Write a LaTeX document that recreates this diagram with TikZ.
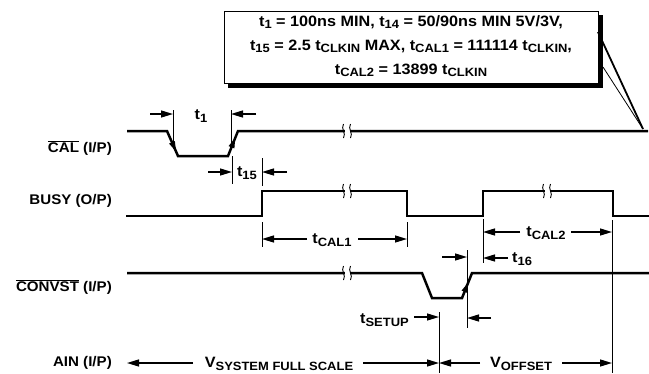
\documentclass[tikz,border=0pt]{standalone}
\usepackage{fontspec}
\setmainfont{Liberation Sans}[BoldFont={Liberation Sans Bold},FakeStretch=1.08]
\usetikzlibrary{arrows.meta,calc}
\newcommand{\lsub}[1]{\raisebox{-2.4pt}{\fontsize{12}{13}\selectfont #1}}
\newcommand{\sigbreak}[1]{%
  \fill[white] ($(#1)+(-2.5,-7)$) rectangle ($(#1)+(2.5,7)$);
  \draw[line width=0.9pt] ($(#1)+(-3.5,-7)$) .. controls ($(#1)+(-6.5,-2)$) and ($(#1)+(-0.5,2)$) .. ($(#1)+(-3.5,7)$);
  \draw[line width=0.9pt] ($(#1)+(3.5,-7)$) .. controls ($(#1)+(0.5,-2)$) and ($(#1)+(6.5,2)$) .. ($(#1)+(3.5,7)$);}
\begin{document}
\begin{tikzpicture}[x=1pt,y=-1pt,
  sig/.style={line width=2.5pt,line join=miter},
  refl/.style={line width=0.8pt},
  dimarr/.style={line width=1.3pt,-{Triangle[length=12pt,width=7pt]}},
  edgearr/.style={line width=1pt,-{Triangle[length=10pt,width=6pt]}},
  lbl/.style={font=\bfseries\fontsize{15}{17}\selectfont,inner sep=0pt},
  siglbl/.style={font=\bfseries\fontsize{14}{16}\selectfont,inner sep=0pt,anchor=east},
  boxtxt/.style={font=\bfseries\fontsize{15}{24}\selectfont,align=center,inner sep=0pt}]
\useasboundingbox (0,0) rectangle (649,373);

% ---- callout box ----
\fill[black] (228,15) rectangle (603,88);
\draw[line width=1pt,fill=white] (224,11) rectangle (598,83);
\coordinate (tip) at (643,129);
\coordinate (cb1) at (598,32);
\coordinate (cb2) at (603,67);
\draw[line width=1.8pt] (cb1) -- (tip);
\draw[line width=0.8pt] (cb2) -- (tip);
\node[boxtxt] (note) at (411,46) {t\lsub{1} = 100ns MIN, t\lsub{14} = 50/90ns MIN 5V/3V,\\
t\lsub{15} = 2.5 t\lsub{CLKIN} MAX, t\lsub{CAL1} = 111114 t\lsub{CLKIN},\\
t\lsub{CAL2} = 13899 t\lsub{CLKIN}};

% ---- signal labels ----
\node[siglbl] (lcal) at (112,148) {$\overline{\mbox{CAL}}$ (I/P)};
\node[siglbl] (lbusy) at (112,201) {BUSY (O/P)};
\node[siglbl] (lconv) at (112,287) {$\overline{\mbox{CONVST}}$ (I/P)};
\node[siglbl] (lain) at (112,363) {AIN (I/P)};

% ---- CAL ----
\coordinate (c0) at (127,131); \coordinate (c1) at (167,131);
\coordinate (c2) at (178,156); \coordinate (c3) at (228,156);
\coordinate (c4) at (238,131); \coordinate (c5) at (648,131);
\draw[sig] (c0) -- (c1) -- (c2) -- (c3) -- (c4) -- (c5);
\draw[edgearr] (c1) -- ($(c1)!0.82!(c2)$);
\draw[edgearr] (c3) -- ($(c3)!0.72!(c4)$);
\sigbreak{347,131}

% ---- BUSY ----
\coordinate (b0) at (126,216); \coordinate (b1) at (262,216);
\coordinate (b2) at (262,191); \coordinate (b3) at (407,191);
\coordinate (b4) at (407,216); \coordinate (b5) at (483,216);
\coordinate (b6) at (483,191); \coordinate (b7) at (613,191);
\coordinate (b8) at (613,216); \coordinate (b9) at (649,216);
\draw[sig] (b0) -- (b1) -- (b2) -- (b3) -- (b4) -- (b5) -- (b6) -- (b7) -- (b8) -- (b9);
\sigbreak{347,191}
\sigbreak{547,191}

% ---- CONVST ----
\coordinate (v0) at (127,273); \coordinate (v1) at (422,273);
\coordinate (v2) at (432,298); \coordinate (v3) at (462,298);
\coordinate (v4) at (472,273); \coordinate (v5) at (649,273);
\draw[sig] (v0) -- (v1) -- (v2) -- (v3) -- (v4) -- (v5);
\draw[edgearr] (v3) -- ($(v3)!0.62!(v4)$);
\sigbreak{347,273}

% ---- t1 ----
\coordinate (t1a) at (173,110); \coordinate (t1b) at (173,145);
\coordinate (t1c) at (231,110); \coordinate (t1d) at (231,146);
\draw[refl] (t1a) -- (t1b); \draw[refl] (t1c) -- (t1d);
\coordinate (t1l) at (150,114); \coordinate (t1lt) at (173,114);
\coordinate (t1r) at (256,114); \coordinate (t1rt) at (231,114);
\draw[dimarr] (t1l) -- (t1lt); \draw[dimarr] (t1r) -- (t1rt);
\node[lbl] (lt1) at (201,116) {t\lsub{1}};

% ---- t15 ----
\coordinate (t15a) at (232,156); \coordinate (t15b) at (232,184);
\coordinate (t15c) at (262,158); \coordinate (t15d) at (262,186);
\draw[refl] (t15a) -- (t15b); \draw[refl] (t15c) -- (t15d);
\coordinate (t15l) at (208,172); \coordinate (t15lt) at (232,172);
\coordinate (t15r) at (287,172); \coordinate (t15rt) at (262,172);
\draw[dimarr] (t15l) -- (t15lt); \draw[dimarr] (t15r) -- (t15rt);
\node[lbl] (lt15) at (247,173) {t\lsub{15}};

% ---- tCAL1 ----
\coordinate (k1a) at (262,222); \coordinate (k1b) at (262,247);
\coordinate (k1c) at (407,222); \coordinate (k1d) at (407,247);
\draw[refl] (k1a) -- (k1b); \draw[refl] (k1c) -- (k1d);
\coordinate (k1l) at (307,239); \coordinate (k1lt) at (262,239);
\coordinate (k1r) at (358,239); \coordinate (k1rt) at (407,239);
\draw[dimarr] (k1l) -- (k1lt); \draw[dimarr] (k1r) -- (k1rt);
\node[lbl] (ltcal1) at (332,240) {t\lsub{CAL1}};

% ---- tCAL2 ----
\coordinate (k2a) at (483,219); \coordinate (k2b) at (483,263);
\coordinate (k2c) at (612,220); \coordinate (k2d) at (612,373);
\draw[refl] (k2a) -- (k2b); \draw[refl] (k2c) -- (k2d);
\coordinate (k2l) at (520,232); \coordinate (k2lt) at (483,232);
\coordinate (k2r) at (571,232); \coordinate (k2rt) at (612,232);
\draw[dimarr] (k2l) -- (k2lt); \draw[dimarr] (k2r) -- (k2rt);
\node[lbl] (ltcal2) at (546,233) {t\lsub{CAL2}};

% ---- t16 ----
\coordinate (t16r) at (508,258); \coordinate (t16rt) at (483,258);
\draw[dimarr] (t16r) -- (t16rt);
\node[lbl,anchor=west] (lt16) at (512,259) {t\lsub{16}};

% ---- CONVST rising edge marks ----
\coordinate (m1a) at (467,250); \coordinate (m1b) at (467,328);
\draw[refl] (m1a) -- (m1b);
\coordinate (m1l) at (442,257); \coordinate (m1lt) at (467,257);
\draw[dimarr] (m1l) -- (m1lt);
\coordinate (m2r) at (491,318); \coordinate (m2rt) at (467,318);
\draw[dimarr] (m2r) -- (m2rt);

% ---- tSETUP ----
\coordinate (s1a) at (439,312); \coordinate (s1b) at (439,373);
\draw[refl] (s1a) -- (s1b);
\coordinate (sl) at (414,317); \coordinate (slt) at (439,317);
\draw[dimarr] (sl) -- (slt);
\node[lbl,anchor=east] (ltsetup) at (409,320) {t\lsub{SETUP}};

% ---- AIN ----
\coordinate (a0) at (193,363); \coordinate (a0t) at (127,363);
\draw[dimarr] (a0) -- (a0t);
\node[lbl] (lvfs) at (279,364) {V\lsub{SYSTEM FULL SCALE}};
\coordinate (a1) at (363,363); \coordinate (a1t) at (439,363);
\draw[dimarr] (a1) -- (a1t);
\coordinate (a2) at (480,363); \coordinate (a2t) at (439,363);
\draw[dimarr] (a2) -- (a2t);
\node[lbl] (lvoff) at (521,364) {V\lsub{OFFSET}};
\coordinate (a3) at (562,363); \coordinate (a3t) at (612,363);
\draw[dimarr] (a3) -- (a3t);
\end{tikzpicture}
\end{document}
